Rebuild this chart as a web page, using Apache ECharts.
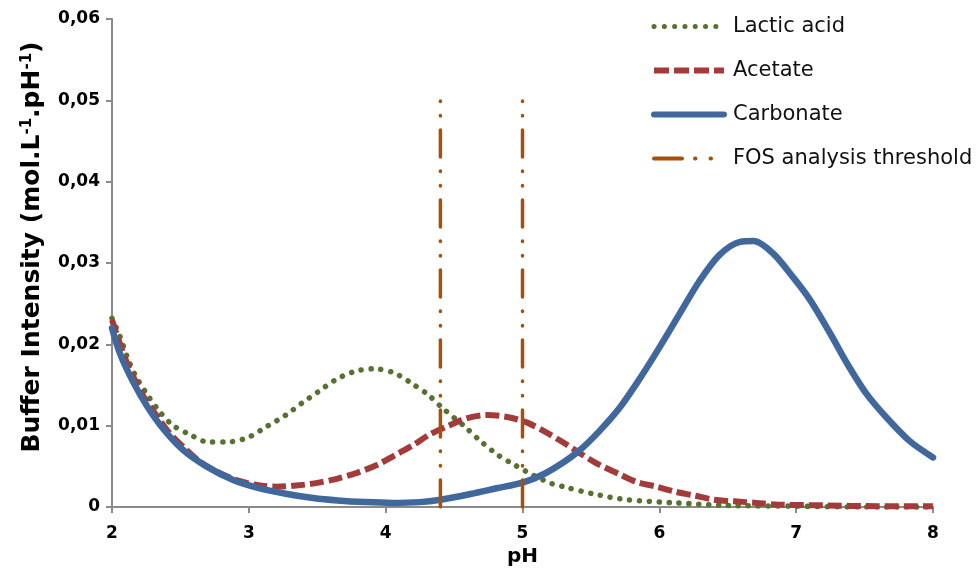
<!DOCTYPE html>
<html>
<head>
<meta charset="utf-8">
<script src="https://cdn.jsdelivr.net/npm/echarts@6/dist/echarts.min.js"></script>
<style>html,body{margin:0;padding:0;background:#fff}#c{width:976px;height:575px}</style>
</head>
<body>
<div id="c"></div>
<script>
// ---- data ----
var lacticPH = [2.0, 2.06, 2.11, 2.17, 2.25, 2.34, 2.44, 2.57, 2.70, 2.85, 3.0, 3.13, 3.27, 3.39, 3.51, 3.63, 3.76, 3.91, 4.06, 4.19, 4.31, 4.42, 4.59, 4.70, 4.82, 4.94, 5.08, 5.21, 5.30, 5.52, 5.76, 6.13, 6.49, 7.0, 7.5, 8.0];
var lacticVal = [0.0232, 0.0209, 0.0185, 0.0162, 0.0140, 0.0119, 0.0101, 0.0089, 0.0080, 0.0080, 0.0086, 0.0099, 0.0113, 0.0128, 0.0142, 0.0156, 0.0166, 0.0170, 0.0165, 0.0152, 0.0138, 0.0121, 0.0097, 0.0080, 0.0064, 0.0052, 0.0039, 0.0029, 0.0025, 0.0016, 0.0009, 0.0005, 0.0002, 0.0001, 0.0000, 0.0000];

var acetatePH = [2.0, 2.11, 2.23, 2.34, 2.42, 2.52, 2.64, 2.77, 2.91, 3.06, 3.20, 3.38, 3.51, 3.65, 3.79, 3.94, 4.07, 4.20, 4.32, 4.46, 4.59, 4.74, 4.88, 5.03, 5.18, 5.31, 5.44, 5.56, 5.70, 5.83, 5.98, 6.11, 6.26, 6.40, 6.55, 6.71, 6.86, 7.2, 7.6, 8.0];
var acetateVal = [0.0230, 0.0177, 0.0136, 0.0109, 0.0091, 0.0074, 0.0056, 0.0043, 0.0033, 0.0027, 0.0025, 0.0027, 0.0030, 0.0035, 0.0042, 0.0052, 0.0064, 0.0076, 0.0089, 0.0100, 0.0109, 0.0113, 0.0111, 0.0104, 0.0091, 0.0078, 0.0064, 0.0052, 0.0041, 0.0031, 0.0025, 0.0019, 0.0014, 0.0009, 0.0007, 0.0005, 0.0003, 0.0002, 0.0001, 0.0001];

var carbonatePH = [2.0, 2.06, 2.16, 2.26, 2.38, 2.52, 2.69, 2.89, 3.08, 3.28, 3.47, 3.65, 3.85, 4.05, 4.25, 4.40, 4.62, 4.81, 5.0, 5.15, 5.30, 5.42, 5.56, 5.71, 5.85, 6.0, 6.15, 6.29, 6.44, 6.59, 6.69, 6.83, 6.98, 7.10, 7.25, 7.37, 7.51, 7.66, 7.83, 8.0];
var carbonateVal = [0.0220, 0.0188, 0.0152, 0.0123, 0.0095, 0.0070, 0.0050, 0.0033, 0.0023, 0.0016, 0.0011, 0.0008, 0.0006, 0.0005, 0.0006, 0.0009, 0.0016, 0.0023, 0.0030, 0.0040, 0.0055, 0.0070, 0.0093, 0.0122, 0.0156, 0.0196, 0.0238, 0.0277, 0.0310, 0.0326, 0.0327, 0.0312, 0.0282, 0.0255, 0.0213, 0.0177, 0.0140, 0.0110, 0.0081, 0.0061];

var thresholdPH = [4.4, 5.0];
var thresholdRange = [0, 0.05];

var seriesNames = ['Lactic acid', 'Acetate', 'Carbonate', 'FOS analysis threshold'];
var xTicks = [2, 3, 4, 5, 6, 7, 8];
var yTicks = [0, 0.01, 0.02, 0.03, 0.04, 0.05, 0.06];

function pairs(xs, ys) { return xs.map(function (x, i) { return [x, ys[i]]; }); }

var FONT = 'DejaVu Sans';
var C_LAC = '#57722F', C_ACE = '#A33B3B', C_CAR = '#41689C', C_FOS = '#A5500C';
var styles = [
  { color: C_LAC, width: 5.5, type: [0.1, 9.8], cap: 'round' },
  { color: C_ACE, width: 6, type: [14, 5], cap: 'butt' },
  { color: C_CAR, width: 6.5, type: 'solid', cap: 'round' },
  { color: C_FOS, width: 3.5, type: [27, 14, 0.5, 14, 0.5, 14], cap: 'round' }
];
var legendLineStyles = [
  { color: C_LAC, width: 5, type: [0.1, 10.2], cap: 'round', opacity: 1 },
  { color: C_ACE, width: 6, type: [15, 5], cap: 'butt', opacity: 1 },
  { color: C_CAR, width: 6, type: 'solid', cap: 'round', opacity: 1 },
  { color: C_FOS, width: 4, type: [28, 13, 0.5, 15, 0.5, 15], cap: 'round', opacity: 1 }
];

var series = [
  { name: seriesNames[0], type: 'line', smooth: 0.3, symbol: 'none', data: pairs(lacticPH, lacticVal),
    lineStyle: styles[0], itemStyle: { color: C_LAC } },
  { name: seriesNames[1], type: 'line', smooth: 0.3, symbol: 'none', data: pairs(acetatePH, acetateVal),
    lineStyle: styles[1], itemStyle: { color: C_ACE } },
  { name: seriesNames[2], type: 'line', smooth: 0.3, symbol: 'none', data: pairs(carbonatePH, carbonateVal),
    lineStyle: styles[2], itemStyle: { color: C_CAR } }
];
thresholdPH.forEach(function (p) {
  series.push({ name: seriesNames[3], type: 'line', symbol: 'none',
    data: thresholdRange.map(function (v) { return [p, v]; }),
    lineStyle: styles[3], itemStyle: { color: C_FOS } });
});

var chart = echarts.init(document.getElementById('c'), null, { renderer: 'canvas' });
chart.setOption({
  animation: false,
  backgroundColor: '#fff',
  grid: { left: 112, right: 43, top: 19, bottom: 68, containLabel: false },
  legend: {
    orient: 'vertical', left: 651, top: 16, padding: 0,
    itemWidth: 70, itemHeight: 14, itemGap: 23,
    data: seriesNames.map(function (n, i) {
      return { name: n, itemStyle: { opacity: 0 }, lineStyle: legendLineStyles[i] };
    }),
    textStyle: { fontFamily: FONT, fontSize: 21, color: '#111', fontWeight: 500, padding: [0, 0, 0, 4] }
  },
  xAxis: {
    type: 'value', min: xTicks[0], max: xTicks[xTicks.length - 1], interval: 1,
    name: 'pH', nameLocation: 'middle', nameGap: 40,
    nameTextStyle: { fontFamily: FONT, fontSize: 20, fontWeight: 'bold', color: '#000' },
    axisLine: { show: true, lineStyle: { color: '#8a8a8a', width: 2 } },
    axisTick: { show: true, length: 6, lineStyle: { color: '#8a8a8a', width: 2 } },
    axisLabel: { margin: 18, fontFamily: FONT, fontSize: 17, fontWeight: 'bold', color: '#000' },
    splitLine: { show: false }
  },
  yAxis: {
    type: 'value', min: yTicks[0], max: yTicks[yTicks.length - 1], interval: 0.01,
    name: 'Buffer Intensity (mol.L{s|-1}.pH{s|-1})', nameLocation: 'middle', nameGap: 67, nameRotate: 90,
    nameTextStyle: { fontFamily: FONT, fontSize: 25, fontWeight: 'bold', color: '#000', padding: [0, 0, 0, 32],
      rich: { s: { fontFamily: FONT, fontSize: 15, fontWeight: 'bold', color: '#000', verticalAlign: 'top', padding: [0, 0, 10, 0] } } },
    axisLine: { show: true, lineStyle: { color: '#8a8a8a', width: 2 } },
    axisTick: { show: true, length: 6, lineStyle: { color: '#8a8a8a', width: 2 } },
    axisLabel: { margin: 12, fontFamily: FONT, fontSize: 17, fontWeight: 'bold', color: '#000',
      formatter: function (v) { return v === 0 ? '0' : v.toFixed(2).replace('.', ','); } },
    splitLine: { show: false }
  },
  series: series
});
</script>
</body>
</html>
